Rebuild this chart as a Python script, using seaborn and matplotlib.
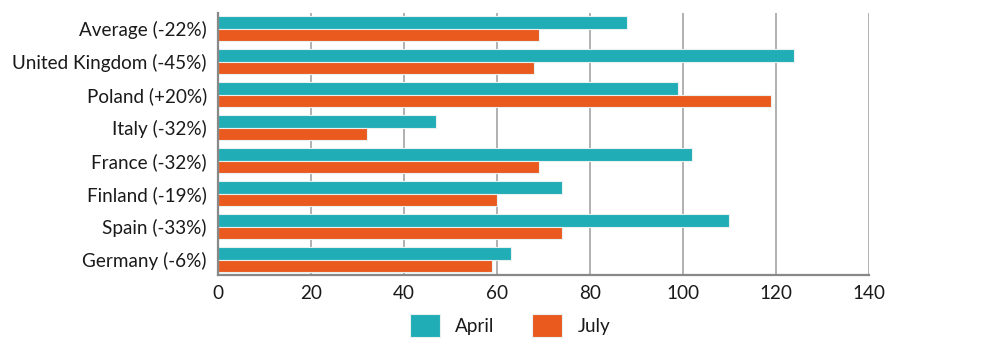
import matplotlib
matplotlib.use("Agg")
import matplotlib.pyplot as plt
import seaborn as sns
import pandas as pd

categories = ["Average (-22%)", "United Kingdom (-45%)", "Poland (+20%)", "Italy (-32%)",
              "France (-32%)", "Finland (-19%)", "Spain (-33%)", "Germany (-6%)"]
april = [88, 124, 99, 47, 102, 74, 110, 63]
july = [69, 68, 119, 32, 69, 60, 74, 59]
series = ["April", "July"]
x_ticks = [0, 20, 40, 60, 80, 100, 120, 140]

colors = {"April": "#20adb5", "July": "#ea5a1e"}

sns.set_theme(style="white")
plt.rcParams["font.family"] = ["Lato", "DejaVu Sans"]

df = pd.DataFrame({
    "Country": categories * 2,
    "Value": april + july,
    "Month": ["April"] * len(categories) + ["July"] * len(categories),
})

fig = plt.figure(figsize=(10.04, 3.46), dpi=100)
ax = fig.add_axes([0.2171, 0.2052, 0.6481, 0.7572])

sns.barplot(data=df, y="Country", x="Value", hue="Month", hue_order=series,
            order=categories, palette=colors, orient="h", width=0.76,
            ax=ax, legend=False, edgecolor="#e8f0f0", linewidth=0.8, saturation=1)

ax.set_xlim(0, 140)
ax.set_ylim(7.46, -0.48)
ax.set_xticks(x_ticks)
ax.set_xticklabels([str(t) for t in x_ticks])
ax.set_xlabel("")
ax.set_ylabel("")
ax.grid(axis="x", color="#aaaaaa", linewidth=1.3)
ax.grid(axis="y", visible=False)
ax.set_axisbelow(True)
for s in ["top", "right"]:
    ax.spines[s].set_visible(False)
for s in ["left", "bottom"]:
    ax.spines[s].set_color("#888888")
    ax.spines[s].set_linewidth(1.6)
ax.tick_params(axis="both", length=0, labelsize=13.6, colors="#1a1a1a")
ax.tick_params(axis="y", pad=8)
ax.tick_params(axis="x", pad=7)

from matplotlib.patches import Patch
handles = [Patch(facecolor=colors[s], edgecolor="#e8f0f0", linewidth=0.8, label=s) for s in series]
fig.legend(handles=handles, loc="center", bbox_to_anchor=(510 / 1004, 0.058), ncol=2,
           frameon=False, fontsize=13.6, handlelength=1.6, handleheight=1.5,
           columnspacing=2.0, handletextpad=0.8, labelcolor="#1a1a1a")

fig.savefig("out.png", dpi=100)
